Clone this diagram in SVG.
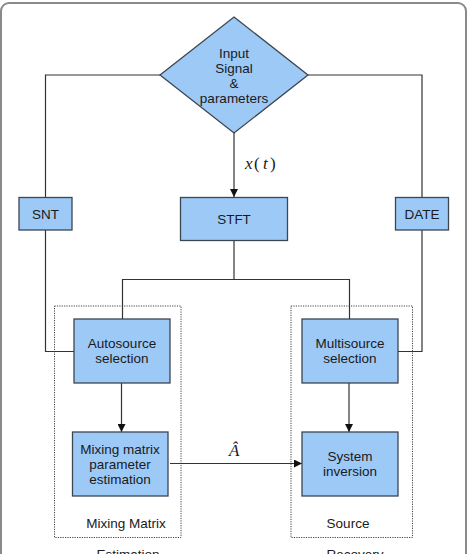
<svg xmlns="http://www.w3.org/2000/svg" width="468" height="554" viewBox="0 0 468 554">
<defs>
<style>
.box{fill:#9dc9f7;stroke:#3c4650;stroke-width:1.3}
.t{font-family:"Liberation Sans",Arial,sans-serif;font-size:13.5px;fill:#1a1a1a;text-anchor:middle}
.m{font-family:"Liberation Serif","Times New Roman",serif;font-size:17px;font-style:italic;fill:#1a1a1a}
.ln{fill:none;stroke:#333;stroke-width:1.2}
.dot{fill:none;stroke:#444;stroke-width:1;stroke-dasharray:1.2 1.2}
</style>
<marker id="ah" viewBox="0 0 10 10" refX="10" refY="5" markerWidth="8" markerHeight="8" markerUnits="userSpaceOnUse" orient="auto">
<path d="M0,0 L10,5 L0,10 z" fill="#111"/>
</marker>
</defs>
<rect x="1" y="3" width="465" height="570" rx="8" fill="#fff" stroke="#8a8a8a" stroke-width="2"/>
<g id="groups">
<rect class="dot" x="54.5" y="306" width="126.5" height="231.5"/>
<rect class="dot" x="291" y="306" width="121.5" height="231.5"/>
<text class="t" x="126" y="528">Mixing Matrix</text>
<text class="t" x="128" y="559">Estimation</text>
<text class="t" x="348" y="528">Source</text>
<text class="t" x="355" y="559">Recovery</text>
</g>
<g id="connectors">
<polyline class="ln" points="160,75 45.5,75 45.5,197"/>
<polyline class="ln" points="308,75 422,75 422,197"/>
<line class="ln" x1="234" y1="133" x2="234" y2="197" marker-end="url(#ah)"/>
<polyline class="ln" points="45.5,230 45.5,351.5 74,351.5"/>
<polyline class="ln" points="422,230 422,351.5 398,351.5"/>
<line class="ln" x1="234" y1="241" x2="234" y2="279.5"/>
<polyline class="ln" points="122.5,319 122.5,279.5 349.5,279.5 349.5,319"/>
<line class="ln" x1="121.5" y1="383" x2="121.5" y2="432" marker-end="url(#ah)"/>
<line class="ln" x1="349" y1="383" x2="349" y2="432" marker-end="url(#ah)"/>
<line class="ln" x1="170" y1="463.5" x2="302" y2="463.5" marker-end="url(#ah)"/>
<text class="m" y="169"><tspan x="245">x</tspan><tspan x="254" font-style="normal">(</tspan><tspan x="263">t</tspan><tspan x="270" font-style="normal">)</tspan></text>
<text class="m" x="229" y="456">Â</text>
</g>
<g id="input">
<polygon class="box" points="234,17 308,75 234,133 160,75"/>
<text class="t" x="234" y="58">Input</text>
<text class="t" x="234" y="73">Signal</text>
<text class="t" x="234" y="88">&amp;</text>
<text class="t" x="234" y="103">parameters</text>
</g>
<g id="snt">
<rect class="box" x="19" y="197.5" width="53" height="32.5"/>
<text class="t" x="45.5" y="218.5">SNT</text>
</g>
<g id="stft">
<rect class="box" x="180.5" y="197.5" width="107" height="43"/>
<text class="t" x="234" y="224">STFT</text>
</g>
<g id="date">
<rect class="box" x="395.5" y="197.5" width="53" height="32.5"/>
<text class="t" x="422" y="218.5">DATE</text>
</g>
<g id="autosource">
<rect class="box" x="74" y="319" width="96" height="64"/>
<text class="t" x="122" y="348">Autosource</text>
<text class="t" x="122" y="363">selection</text>
</g>
<g id="multisource">
<rect class="box" x="302" y="319" width="96" height="64"/>
<text class="t" x="350" y="348">Multisource</text>
<text class="t" x="350" y="363">selection</text>
</g>
<g id="mixing">
<rect class="box" x="72.5" y="432" width="95.5" height="64"/>
<text class="t" x="120" y="454">Mixing matrix</text>
<text class="t" x="120" y="469">parameter</text>
<text class="t" x="120" y="484">estimation</text>
</g>
<g id="system">
<rect class="box" x="302" y="432" width="96" height="64"/>
<text class="t" x="350" y="461">System</text>
<text class="t" x="350" y="476">inversion</text>
</g>
</svg>
